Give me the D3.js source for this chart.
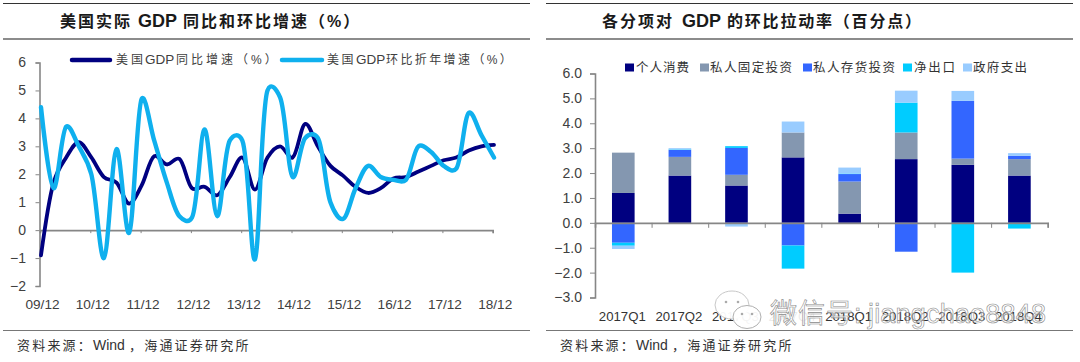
<!DOCTYPE html>
<html>
<head>
<meta charset="utf-8">
<script src="https://cdn.jsdelivr.net/npm/d3@7"></script>
<style>
body { margin: 0; background: #fff; }
text { font-family: "Liberation Sans", "Noto Sans CJK SC", sans-serif; }
</style>
</head>
<body>
<div id="chart"></div>
<script>
// left chart, quarterly from 09/12 to 18/12
const yearLabels = ["09/12","10/12","11/12","12/12","13/12","14/12","15/12","16/12","17/12","18/12"];
const gdpYoy = [-0.9,1.7,2.6,3.15,2.6,1.9,1.7,0.95,1.6,2.65,2.35,2.55,1.5,1.55,1.25,1.9,2.6,1.45,2.6,3.0,2.6,3.8,3.0,2.3,1.95,1.55,1.33,1.5,1.85,1.9,2.1,2.3,2.5,2.6,2.85,3.0,3.05];
const gdpQoq = [4.4,1.5,3.7,3.0,2.0,-1.0,2.9,-0.1,4.7,3.2,1.7,0.5,0.45,3.6,0.5,3.2,3.2,-1.05,5.0,4.75,1.9,3.3,3.3,1.0,0.4,1.5,2.3,1.9,1.8,1.8,3.0,2.8,2.3,2.2,4.2,3.4,2.6];

// right chart
const quarters = ["2017Q1","2017Q2","2017Q3","2017Q4","2018Q1","2018Q2","2018Q3","2018Q4"];
const seriesNames = ["个人消费","私人固定投资","私人存货投资","净出口","政府支出"];
const consumption = [1.2,1.9,1.5,2.63,0.37,2.56,2.33,1.9];
const fixedInv = [1.62,0.75,0.43,1.0,1.29,1.07,0.25,0.66];
const inventory = [-0.8,0.28,1.08,-0.91,0.3,-1.16,2.32,0.13];
const netExport = [-0.12,0.02,0.07,-0.93,0.02,1.2,-2.0,-0.23];
const govSpend = [-0.13,0.05,-0.15,0.44,0.24,0.48,0.4,0.11];
const barColors = ["#000080","#8497B0","#3366FF","#00CCFF","#99CCFF"];

const svg = d3.select("#chart").append("svg")
    .attr("width", 1080)
    .attr("height", 362);

const axisGrey = "#868686";
const textGrey = "#404040";

// text with latin parts set tighter than the chinese parts
function mixedText(y, color, weight, segs) {
    segs.forEach(s => {
        svg.append("text").attr("x", s.x).attr("y", y)
            .attr("font-size", s.size).attr("font-weight", weight).attr("fill", color)
            .style("letter-spacing", (s.ls || 0) + "px")
            .text(s.t);
    });
}

// header + footer rules for each panel
function panelFrame(x0, x1) {
    svg.append("line").attr("x1", x0).attr("x2", x1).attr("y1", 3.5).attr("y2", 3.5)
        .attr("stroke", "#333").attr("stroke-width", 1);
    svg.append("line").attr("x1", x0).attr("x2", x1).attr("y1", 39).attr("y2", 39)
        .attr("stroke", "#8c8c8c").attr("stroke-width", 2);
    svg.append("line").attr("x1", x0).attr("x2", x1).attr("y1", 330.5).attr("y2", 330.5)
        .attr("stroke", "#777").attr("stroke-width", 1);
}
panelFrame(3, 530);
panelFrame(546, 1073);

mixedText(27, "#1a1a1a", "bold", [
    {t: "美国实际", x: 60, size: 16, ls: 2},
    {t: "GDP", x: 138, size: 18},
    {t: "同比和环比增速（%）", x: 183, size: 16, ls: 2}
]);
mixedText(27, "#1a1a1a", "bold", [
    {t: "各分项对", x: 602, size: 16, ls: 2},
    {t: "GDP", x: 682, size: 18},
    {t: "的环比拉动率（百分点）", x: 727, size: 16, ls: 1.8}
]);
[0, 543].forEach(dx => {
    mixedText(350, "#333", "normal", [
        {t: "资料来源：", x: 17 + dx, size: 13, ls: 2.2},
        {t: "Wind", x: 93 + dx, size: 14},
        {t: "，海通证券研究所", x: 129 + dx, size: 13, ls: 2.2}
    ]);
});

// ---- left line chart
// ticks and points are about 1.5px apart in the original
const xTick = d3.scaleLinear().domain([0, 36]).range([40, 492.7]);
const xLine = d3.scaleLinear().domain([0, 36]).range([41, 494]);
const yLine = d3.scaleLinear().domain([-2, 6]).range([286, 62.5]);

const leftY = svg.append("g").attr("transform", "translate(39.5,0)")
    .call(d3.axisLeft(yLine).tickValues(d3.range(-2, 7)).tickSize(4).tickPadding(9.5).tickFormat(d3.format("d")));
const leftX = svg.append("g").attr("transform", `translate(0,${yLine(0)})`)
    .call(d3.axisBottom(xTick).tickValues(d3.range(0, 37, 4)).tickSize(3).tickFormat(""));

[leftY, leftX].forEach(g => {
    g.selectAll("path").attr("stroke", axisGrey).attr("stroke-width", 1.6);
    g.selectAll("line").attr("stroke", axisGrey).attr("stroke-width", 1);
    g.selectAll("text").attr("font-size", 14).attr("fill", textGrey)
        .style("font-family", '"Liberation Sans", sans-serif');
});

svg.append("g").selectAll("text").data(yearLabels).join("text")
    .attr("x", (d, i) => xTick(i * 4) + 2.5)
    .attr("y", 309)
    .attr("text-anchor", "middle")
    .attr("font-size", 13.6).attr("fill", textGrey)
    .text(d => d);

const lineGen = d3.line()
    .x((d, i) => xLine(i))
    .y(d => yLine(d))
    .curve(d3.curveCatmullRom.alpha(0.25));

svg.append("path").datum(gdpYoy)
    .attr("d", lineGen).attr("fill", "none")
    .attr("stroke", "#000080").attr("stroke-width", 3.8).attr("stroke-linecap", "round");
svg.append("path").datum(gdpQoq)
    .attr("d", lineGen).attr("fill", "none")
    .attr("stroke", "#0FB0EE").attr("stroke-width", 4.4).attr("stroke-linecap", "round");

// left legend
svg.append("line").attr("x1", 72).attr("x2", 110).attr("y1", 60).attr("y2", 60)
    .attr("stroke", "#000080").attr("stroke-width", 4.5).attr("stroke-linecap", "round");
svg.append("line").attr("x1", 282).attr("x2", 322).attr("y1", 60).attr("y2", 60)
    .attr("stroke", "#0FB0EE").attr("stroke-width", 4.5).attr("stroke-linecap", "round");
mixedText(63.5, textGrey, "normal", [
    {t: "美国", x: 116, size: 12, ls: 3},
    {t: "GDP", x: 145, size: 13.5},
    {t: "同比增速（%）", x: 176, size: 12, ls: 3}
]);
mixedText(63.5, textGrey, "normal", [
    {t: "美国", x: 327, size: 12, ls: 2.5},
    {t: "GDP", x: 356, size: 13.5},
    {t: "环比折年增速（%）", x: 386, size: 12, ls: 2.4}
]);

// ---- right stacked bars
const barRows = quarters.map((q, i) => ({
    quarter: q,
    [seriesNames[0]]: consumption[i],
    [seriesNames[1]]: fixedInv[i],
    [seriesNames[2]]: inventory[i],
    [seriesNames[3]]: netExport[i],
    [seriesNames[4]]: govSpend[i]
}));
const stacked = d3.stack().keys(seriesNames).offset(d3.stackOffsetDiverging)(barRows);

const xBar = d3.scaleBand().domain(quarters).range([595, 1047.7]).paddingInner(0.6).paddingOuter(0.3);
const yBar = d3.scaleLinear().domain([-3, 6]).range([297.5, 73.5]);

svg.append("g").selectAll("g").data(stacked).join("g")
    .attr("fill", (d, i) => barColors[i])
    .selectAll("rect").data(d => d).join("rect")
    .attr("x", d => xBar(d.data.quarter))
    .attr("width", xBar.bandwidth())
    .attr("y", d => yBar(d[1]))
    .attr("height", d => Math.abs(yBar(d[0]) - yBar(d[1])));

const rightY = svg.append("g").attr("transform", "translate(595,0)")
    .call(d3.axisLeft(yBar).tickValues(d3.range(-3, 7)).tickSize(5).tickPadding(8).tickFormat(d3.format(".1f")));
// ticks sit on category boundaries
const xEdge = d3.scaleLinear().domain([0, quarters.length]).range([595, 1047.7]);
const rightX = svg.append("g").attr("transform", `translate(0,${yBar(0)})`)
    .call(d3.axisBottom(xEdge).tickValues(d3.range(0, quarters.length + 1)).tickSize(5).tickFormat(""));

[rightY, rightX].forEach(g => {
    g.selectAll("path").attr("stroke", axisGrey).attr("stroke-width", 1.6);
    g.selectAll("line").attr("stroke", axisGrey).attr("stroke-width", 1);
    g.selectAll("text").attr("font-size", 14).attr("fill", textGrey)
        .style("font-family", '"Liberation Sans", sans-serif');
});

svg.append("g").selectAll("text").data(quarters).join("text")
    .attr("x", d => xBar(d) + xBar.bandwidth() / 2 - 1)
    .attr("y", 321)
    .attr("text-anchor", "middle")
    .attr("font-size", 13.2).attr("fill", "#333")
    .text(d => d);

// right legend
const legendPos = [
    {s: 625, t0: 636, t1: 689},
    {s: 700, t0: 710, t1: 792},
    {s: 803, t0: 813, t1: 895},
    {s: 903, t0: 914, t1: 955},
    {s: 963, t0: 973, t1: 1027}
];
legendPos.forEach((d, i) => {
    svg.append("rect").attr("x", d.s).attr("y", 63.5).attr("width", 9).attr("height", 8)
        .attr("fill", barColors[i]);
    svg.append("text").attr("x", d.t0).attr("y", 72)
        .attr("textLength", d.t1 - d.t0).attr("lengthAdjust", "spacing")
        .attr("font-size", 12.5).attr("fill", "#333").text(seriesNames[i]);
});

// ---- watermark over the right chart
const mark = svg.append("g");
mark.append("ellipse").attr("cx", 732).attr("cy", 305).attr("rx", 17).attr("ry", 14)
    .attr("fill", "#fff").attr("fill-opacity", 0.95).attr("stroke", "#c8c8c8");
mark.append("ellipse").attr("cx", 747).attr("cy", 317).attr("rx", 14).attr("ry", 11.5)
    .attr("fill", "#fff").attr("fill-opacity", 0.95).attr("stroke", "#b0b0b0");
[[726, 302], [738, 302], [742, 314], [752, 314]].forEach(p => {
    mark.append("circle").attr("cx", p[0]).attr("cy", p[1]).attr("r", 1.3).attr("fill", "#aaa");
});
// chinese part hides the labels under it, the latin part lets them show through
mark.append("rect").attr("x", 762).attr("y", 298).attr("width", 62).attr("height", 30)
    .attr("fill", "#fff").attr("fill-opacity", 0.9);
mark.append("text").attr("x", 770).attr("y", 323)
    .attr("font-size", 27).style("letter-spacing", "1px")
    .attr("fill", "#fff").attr("fill-opacity", 0.6).attr("stroke", "#8a8a8a").attr("stroke-width", 0.6)
    .text("微信号:");
mark.append("text").attr("x", 868).attr("y", 323)
    .attr("textLength", 178).attr("lengthAdjust", "spacing")
    .attr("font-size", 27)
    .attr("fill", "#fff").attr("fill-opacity", 0.45)
    .attr("stroke", "#8a8a8a").attr("stroke-width", 0.6)
    .text("jiangchao8848");
</script>
</body>
</html>
